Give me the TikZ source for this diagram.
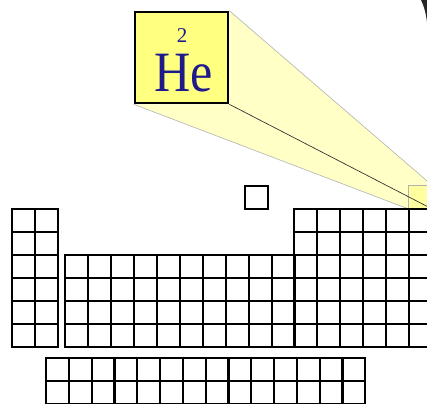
\documentclass[tikz,border=0pt]{standalone}
\usepackage{fontspec}
\setmainfont{Liberation Serif}
\usetikzlibrary{backgrounds}
\definecolor{heyellow}{HTML}{FFFF80}
\definecolor{beamyellow}{HTML}{FFFFC6}
\definecolor{hetext}{HTML}{1E1A8C}
\tikzset{
  cell/.style={draw, line width=2pt, minimum width=23pt, minimum height=23pt,
               inner sep=0pt, anchor=north west},
  hecell/.style={cell, fill=heyellow!75, draw=black!30, line width=0.8pt},
  elembox/.style={draw, fill=heyellow, line width=2.6pt, minimum width=93pt,
                  minimum height=91pt, inner sep=0pt},
  anum/.style={text=hetext, font=\fontsize{21}{24}\selectfont, inner sep=0pt, anchor=base},
  esym/.style={text=hetext, font=\fontsize{57}{60}\selectfont, inner sep=0pt, anchor=base},
}

\begin{document}
\begin{tikzpicture}[x=1pt, y=-1pt]
    \useasboundingbox (0,0) rectangle (427,403);
    % zoomed helium box
    \node[elembox] (he) at (181.5,57.5) {};
    \node[anum] (he-num) at (182,43) {2};
    \node[esym] (he-sym) at (183.5,92) {\scalebox{0.88}[1]{He}};
    % helium cell in the table
    \node[hecell] (he-cell) at (408,185) {};
    \begin{scope}[on background layer]
      \fill[beamyellow] (he.north east) -- (he-cell.north east) -- (he-cell.south east)
        -- (he-cell.south west) -- (he.south west) -- (he.south east) -- cycle;
      \draw[black!30, line width=0.6pt] (he.north east) -- (he-cell.north east);
      \draw[black!30, line width=0.6pt] (he.south west) -- (he-cell.south west);
    \end{scope}
    \draw[black!80, line width=0.7pt] (he.south east) -- (he-cell.south east);
    % hydrogen
    \node[cell] (h) at (244,185) {};
    % s block
    \foreach \c in {0,1}
      \foreach \r in {0,...,5}
        \node[cell] (s-\c-\r) at ({11+23*\c},{208+23*\r}) {};
    % d block
    \foreach \c in {0,...,9}
      \foreach \r in {0,...,3}
        \node[cell] (d-\c-\r) at ({64+23*\c},{254+23*\r}) {};
    % p block
    \foreach \c in {0,...,5}
      \foreach \r in {0,...,5}
        \node[cell] (p-\c-\r) at ({293+23*\c},{208+23*\r}) {};
    % f block
    \foreach \c in {0,...,13}
      \foreach \r in {0,1}
        \node[cell] (f-\c-\r) at ({45+22.8*\c},{357+23*\r}) {};
    % dark edge at top right
    \fill[black!85] (421,0) .. controls (424,6) and (426,14) .. (427,22) -- (427,0) -- cycle;
  \end{tikzpicture}
\end{document}
